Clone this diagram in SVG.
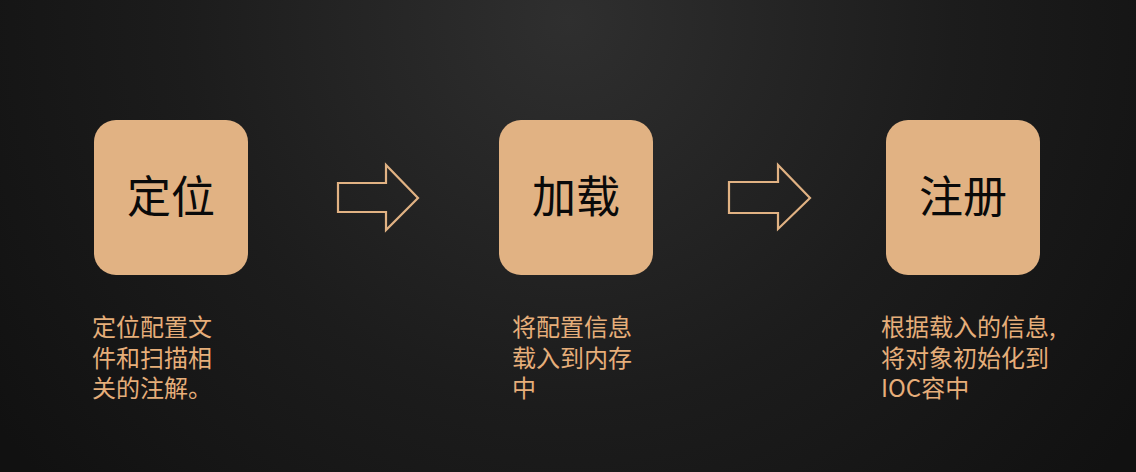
<svg xmlns="http://www.w3.org/2000/svg" width="1136" height="472" viewBox="0 0 1136 472">
  <defs>
    <radialGradient id="bg" cx="568" cy="20" r="700" gradientUnits="userSpaceOnUse">
      <stop offset="0" stop-color="#2f2f2f"/>
      <stop offset="0.55" stop-color="#1c1c1c"/>
      <stop offset="1" stop-color="#111111"/>
    </radialGradient>
    <style>
      .box { fill: #e1b283; }
      .title { font-family: "Noto Sans CJK SC", "Noto Sans", sans-serif; font-size: 44px; fill: #0a0a0a; text-anchor: middle; }
      .desc { font-family: "Noto Sans CJK SC", "Noto Sans", sans-serif; font-size: 24px; fill: #e6ae7a; }
      .arrow { fill: none; stroke: #e1b283; stroke-width: 2.2; stroke-linejoin: miter; }
    </style>
  </defs>
  <rect width="1136" height="472" fill="url(#bg)"/>

  <g id="connectors">
    <path class="arrow" d="M338,183 H386 V165 L418,198 L386,230 V212 H338 Z"/>
    <path class="arrow" d="M729,182 H778 V165 L810,198 L778,229 V213 H729 Z"/>
  </g>

  <g id="node-locate">
    <rect class="box" x="94" y="120" width="154" height="155" rx="22"/>
    <text class="title" x="171" y="213">定位</text>
    <text class="desc" x="92" y="336">定位配置文</text>
    <text class="desc" x="92" y="367">件和扫描相</text>
    <text class="desc" x="92" y="397">关的注解。</text>
  </g>

  <g id="node-load">
    <rect class="box" x="499" y="120" width="154" height="155" rx="22"/>
    <text class="title" x="576" y="213">加载</text>
    <text class="desc" x="512" y="336">将配置信息</text>
    <text class="desc" x="512" y="367">载入到内存</text>
    <text class="desc" x="512" y="397">中</text>
  </g>

  <g id="node-register">
    <rect class="box" x="886" y="120" width="154" height="155" rx="22"/>
    <text class="title" x="963" y="213">注册</text>
    <text class="desc" x="881" y="336">根据载入的信息,</text>
    <text class="desc" x="881" y="367">将对象初始化到</text>
    <text class="desc" x="881" y="397">IOC容中</text>
  </g>
</svg>
